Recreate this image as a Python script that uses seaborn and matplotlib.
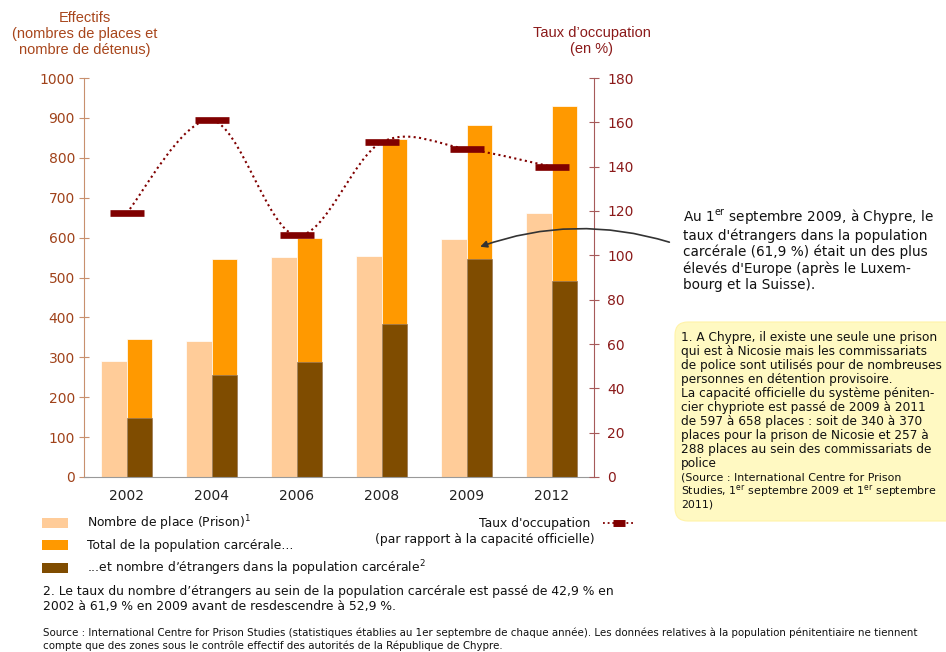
import numpy as np
import pandas as pd
import seaborn as sns
import matplotlib.pyplot as plt
from matplotlib.path import Path
from matplotlib.patches import PathPatch, Rectangle, FancyBboxPatch
from matplotlib.lines import Line2D

sns.set_style("white")
plt.rcParams['font.family'] = ['DejaVu Sans']

# données
years = ["2002", "2004", "2006", "2008", "2009", "2012"]
year_num = [2002, 2004, 2006, 2008, 2009, 2012]
places = [291, 341, 551, 554, 597, 662]
total = [346, 546, 599, 847, 883, 930]
etrangers = [148, 256, 288, 383, 547, 490]
taux = [119, 161, 109, 151, 148, 140]

c_place = "#FFCC99"
c_total = "#FF9900"
c_etr = "#7F4C00"
c_taux = "#800000"
c_left = "#A0421A"
c_right = "#8B1A1A"

W, H = 946, 652
fig = plt.figure(figsize=(W / 100, H / 100), dpi=100)
ax = fig.add_axes([84 / W, 1 - 477 / H, 510 / W, 399 / H])


def fp(x, y):
    # pixels (depuis le haut) -> coordonnées figure
    return x / W, 1 - y / H


# barres : places / total côte à côte, étrangers par-dessus le total
df = pd.DataFrame({"annee": years * 2,
                   "serie": ["places"] * 6 + ["total"] * 6,
                   "valeur": places + total})
sns.barplot(data=df, x="annee", y="valeur", hue="serie", hue_order=["places", "total"],
            palette={"places": c_place, "total": c_total}, width=0.59, dodge=True,
            saturation=1, errorbar=None, legend=False, edgecolor="white", linewidth=0.5, ax=ax)
df2 = pd.DataFrame({"annee": years, "serie": "total", "valeur": etrangers})
sns.barplot(data=df2, x="annee", y="valeur", hue="serie", hue_order=["places", "total"],
            palette={"places": c_place, "total": c_etr}, width=0.59, dodge=True,
            saturation=1, errorbar=None, legend=False, edgecolor="#9a7a5a", linewidth=0.5, ax=ax)

ax.set_ylim(0, 1000)
ax.set_xlim(-0.5, len(years) - 0.5)
ax.set_yticks(range(0, 1001, 100))
ax.set_xlabel("")
ax.set_ylabel("")
for s in ["top", "right"]:
    ax.spines[s].set_visible(False)
ax.spines["left"].set_color("#C8906E")
ax.spines["bottom"].set_color("#999999")
ax.tick_params(axis="y", direction="inout", length=7, width=0.8, color="#C8906E",
               labelcolor=c_left, labelsize=10, pad=3)
ax.tick_params(axis="x", which="major", length=0, labelsize=10, pad=9, labelcolor="#222222")

# marques de rupture sur l'axe des x (une par année d'écart)
minor = []
for i in range(len(years) - 1):
    n = year_num[i + 1] - year_num[i]
    mid = i + 0.5
    minor += [mid + (k - (n - 1) / 2) * 0.03 for k in range(n)]
ax.set_xticks(minor, minor=True)
ax.tick_params(axis="x", which="minor", direction="inout", length=7, width=0.8, color="#999999")

# axe droit : taux d'occupation
ax2 = ax.twinx()
ax2.set_ylim(0, 180)
ax2.set_yticks(range(0, 181, 20))
for s in ["top", "left", "bottom"]:
    ax2.spines[s].set_visible(False)
ax2.spines["right"].set_color("#A65A5A")
ax2.tick_params(axis="y", direction="inout", length=7, width=0.8, color="#A65A5A",
                labelcolor=c_right, labelsize=10, pad=6)

# courbe lissée en pointillés
pts = np.column_stack([np.arange(len(taux)), taux]).astype(float)
ext = np.vstack([pts[0], pts, pts[-1]])
verts = [tuple(pts[0])]
codes = [Path.MOVETO]
for i in range(len(pts) - 1):
    p0, p1, p2, p3 = ext[i], ext[i + 1], ext[i + 2], ext[i + 3]
    verts += [tuple(p1 + (p2 - p0) / 6), tuple(p2 - (p3 - p1) / 6), tuple(p2)]
    codes += [Path.CURVE4] * 3
ax2.add_patch(PathPatch(Path(verts, codes), fill=False, edgecolor=c_taux, lw=1.5,
                        linestyle=(0, (1, 1.6)), zorder=3))
ax2.plot(np.arange(len(taux)), taux, ls="none", marker="_", ms=24, mew=4.8,
         color=c_taux, zorder=4)

# titres des axes
fig.text(*fp(85, 34), "Effectifs\n(nombres de places et\nnombre de détenus)", ha="center",
         va="center", fontsize=10.5, family="Liberation Sans", color="#A8461C", linespacing=1.15)
fig.text(*fp(592, 41), "Taux d’occupation\n(en %)", ha="center", va="center",
         fontsize=10.5, family="Liberation Sans", color=c_right, linespacing=1.2)

# annotation avec flèche
fig.text(*fp(683, 207), "Au 1$^{\\mathrm{er}}$ septembre 2009, à Chypre, le\n"
         "taux d'étrangers dans la population\n"
         "carcérale (61,9 %) était un des plus\n"
         "élevés d'Europe (après le Luxem-\n"
         "bourg et la Suisse).", ha="left", va="top", fontsize=9.8,
         linespacing=1.18, color="#111111")
ax2.annotate("", xy=(4.13, etrangers[4] * 180 / 1000 + 5), xycoords="data",
             xytext=fp(672, 243), textcoords="figure fraction",
             arrowprops=dict(arrowstyle="-|>", color="#333333", lw=1.2,
                             mutation_scale=10, connectionstyle="arc3,rad=0.17"),
             annotation_clip=False)

# encadré jaune
box = FancyBboxPatch((6.75, (H - 521) / 100), 3.0, 1.99,
                     boxstyle="round,pad=0,rounding_size=0.13",
                     transform=fig.dpi_scale_trans, facecolor="#FFF9C2",
                     edgecolor="#FFF3A8", lw=0.8)
fig.patches.append(box)
fig.text(*fp(681, 331), "1. A Chypre, il existe une seule une prison\n"
         "qui est à Nicosie mais les commissariats\n"
         "de police sont utilisés pour de nombreuses\n"
         "personnes en détention provisoire.\n"
         "La capacité officielle du système péniten-\n"
         "cier chypriote est passé de 2009 à 2011\n"
         "de 597 à 658 places : soit de 340 à 370\n"
         "places pour la prison de Nicosie et 257 à\n"
         "288 places au sein des commissariats de\n"
         "police", ha="left", va="top", fontsize=8.7, linespacing=1.1, color="#111111")
fig.text(*fp(681, 473), "(Source : International Centre for Prison\n"
         "Studies, 1$^{\\mathrm{er}}$ septembre 2009 et 1$^{\\mathrm{er}}$ septembre\n"
         "2011)", ha="left", va="top", fontsize=7.9, linespacing=1.05, color="#111111")

# légende (bas)
leg = [(c_place, "Nombre de place (Prison)$^{1}$", 523),
       (c_total, "Total de la population carcérale...", 545),
       (c_etr, "...et nombre d’étrangers dans la population carcérale$^{2}$", 568)]
for col, lab, y in leg:
    x0, y0 = fp(42, y + 5)
    fig.patches.append(Rectangle((x0, y0), 26 / W, 10 / H, transform=fig.transFigure,
                                 facecolor=col, edgecolor="none"))
    fig.text(*fp(87, y), lab, ha="left", va="center", fontsize=8.9, color="#111111")

fig.text(*fp(590, 523), "Taux d'occupation", ha="right", va="center", fontsize=8.9, color="#111111")
fig.text(*fp(595, 540), "(par rapport à la capacité officielle)", ha="right", va="center",
         fontsize=8.9, color="#111111")
lx0, ly = fp(603, 523)
lx1, _ = fp(634, 523)
fig.add_artist(Line2D([lx0, lx1], [ly, ly], transform=fig.transFigure, color=c_taux,
                      lw=1.3, linestyle=(0, (1, 1.6))))
fig.add_artist(Line2D([(lx0 + lx1) / 2], [ly], transform=fig.transFigure, color=c_taux,
                      marker="_", ms=8, mew=5))

# notes
fig.text(*fp(43, 599), "2. Le taux du nombre d’étrangers au sein de la population carcérale est passé de 42,9 % en\n"
         "2002 à 61,9 % en 2009 avant de resdescendre à 52,9 %.", ha="left", va="center",
         fontsize=8.9, linespacing=1.2, color="#111111")
fig.text(*fp(43, 639), "Source : International Centre for Prison Studies (statistiques établies au 1er septembre de "
         "chaque année). Les données relatives à la population pénitentiaire ne tiennent\n"
         "compte que des zones sous le contrôle effectif des autorités de la République de Chypre.",
         ha="left", va="center", fontsize=7.4, linespacing=1.25, color="#111111")

fig.savefig("out.png", dpi=100)
